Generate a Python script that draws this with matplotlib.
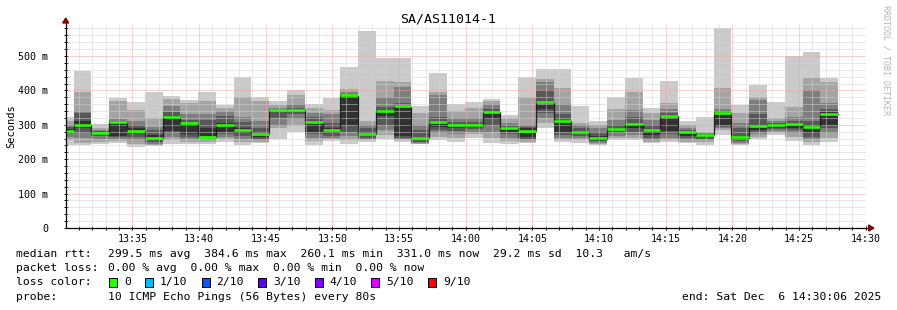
import matplotlib
matplotlib.use("Agg")
import matplotlib.pyplot as plt
from matplotlib.patches import Rectangle, Polygon
import numpy as np

# ---------------- data ----------------
title = "SA/AS11014-1"
first_step_start = -44      # seconds relative to 13:30:00 (first, partial step)
step_seconds = 80           # probe interval

# median RTT per step (ms)
median = [282, 299, 274, 307, 282, 262, 321, 303, 264, 297, 283, 272, 343, 343, 306,
          285, 384.6, 272, 340, 353, 262, 307, 297, 297, 336, 289, 282, 365, 310, 279,
          260.1, 287, 300, 283, 325, 277, 270, 334, 263, 295, 298, 301, 292, 331]

# the 10 sorted ping RTTs per step (ms)
pings = [
    [242, 255, 265, 275, 280, 288, 295, 300, 310, 322],
    [240, 248, 262, 275, 290, 310, 333, 340, 396, 457],
    [243, 250, 258, 266, 271, 277, 281, 285, 292, 302],
    [246, 253, 260, 265, 268, 310, 312, 318, 368, 378],
    [236, 245, 255, 265, 275, 290, 300, 311, 343, 365],
    [238, 241, 245, 250, 255, 270, 285, 295, 320, 396],
    [243, 255, 265, 275, 282, 327, 336, 354, 376, 384],
    [243, 250, 258, 265, 272, 305, 315, 330, 362, 372],
    [243, 250, 255, 262, 268, 290, 313, 330, 368, 396],
    [250, 258, 265, 272, 280, 305, 325, 340, 350, 358],
    [241, 250, 260, 268, 276, 292, 308, 323, 382, 440],
    [246, 250, 255, 260, 265, 278, 290, 310, 370, 380],
    [260, 290, 300, 320, 340, 344, 346, 350, 358, 369],
    [280, 300, 318, 330, 340, 346, 350, 360, 386, 400],
    [241, 252, 262, 272, 280, 310, 322, 333, 350, 360],
    [253, 258, 262, 268, 275, 290, 305, 330, 343, 378],
    [243, 255, 268, 280, 300, 388, 390, 395, 404, 467],
    [250, 255, 258, 262, 268, 278, 290, 300, 312, 572],
    [260, 270, 285, 300, 325, 343, 352, 382, 427, 495],
    [250, 255, 258, 262, 268, 357, 362, 410, 425, 493],
    [243, 245, 247, 250, 255, 265, 285, 300, 333, 355],
    [255, 265, 275, 285, 295, 310, 322, 388, 396, 450],
    [250, 262, 272, 282, 290, 300, 308, 320, 340, 360],
    [262, 272, 280, 288, 293, 300, 308, 320, 348, 365],
    [246, 262, 280, 300, 318, 340, 345, 360, 368, 375],
    [243, 252, 262, 272, 280, 293, 297, 305, 320, 328],
    [246, 250, 255, 260, 265, 290, 295, 300, 380, 440],
    [290, 305, 320, 335, 345, 370, 400, 423, 433, 463],
    [249, 255, 262, 270, 280, 315, 330, 360, 408, 462],
    [246, 255, 262, 268, 275, 283, 290, 298, 304, 355],
    [241, 245, 248, 252, 258, 268, 280, 290, 300, 312],
    [255, 262, 268, 275, 282, 292, 300, 314, 346, 380],
    [255, 262, 270, 280, 290, 305, 323, 343, 396, 437],
    [246, 250, 255, 262, 270, 288, 300, 315, 333, 348],
    [250, 255, 262, 272, 282, 328, 335, 345, 362, 428],
    [246, 250, 256, 262, 268, 280, 285, 292, 300, 310],
    [241, 250, 255, 260, 265, 272, 274, 276, 280, 322],
    [270, 285, 290, 295, 300, 337, 340, 346, 406, 580],
    [240, 244, 248, 252, 258, 268, 290, 305, 333, 358],
    [258, 265, 272, 278, 285, 300, 330, 372, 382, 416],
    [270, 276, 282, 288, 292, 302, 305, 310, 320, 367],
    [252, 265, 275, 285, 292, 305, 312, 323, 352, 500],
    [241, 250, 258, 265, 275, 296, 312, 400, 437, 512],
    [250, 262, 275, 290, 300, 338, 345, 362, 423, 435],
]

x_tick_labels = ["13:35", "13:40", "13:45", "13:50", "13:55", "14:00",
                 "14:05", "14:10", "14:15", "14:20", "14:25", "14:30"]
y_tick_values = [0, 100, 200, 300, 400, 500]
y_tick_labels = ["0", "100 m", "200 m", "300 m", "400 m", "500 m"]

stats_line = "299.5 ms avg  384.6 ms max  260.1 ms min  331.0 ms now  29.2 ms sd  10.3   am/s"
loss_line = "0.00 % avg  0.00 % max  0.00 % min  0.00 % now"
loss_labels = ["0", "1/10", "2/10", "3/10", "4/10", "5/10", "9/10"]
loss_colors = ["#26ff00", "#00b8ff", "#0059ff", "#5e00ff", "#7e00ff", "#dd00ff", "#ff0000"]
probe_text = "10 ICMP Echo Pings (56 Bytes) every 80s"
end_text = "end: Sat Dec  6 14:30:06 2025"

# ---------------- figure ----------------
W, H = 897, 310
fig = plt.figure(figsize=(W / 100, H / 100), dpi=100)
fig.patch.set_facecolor("white")

ax_left, ax_right, ax_top, ax_bot = 65.7, 865.7, 24.0, 228.0
ax = fig.add_axes([ax_left / W, (H - ax_bot) / H, (ax_right - ax_left) / W, (ax_bot - ax_top) / H])
ax.set_facecolor("white")
y_top = (ax_bot - ax_top) / 0.344
ax.set_xlim(0, 3600)
ax.set_ylim(0, y_top)

mono = "DejaVu Sans Mono"

# grid (light dotted)
gkw = dict(lw=0.72, ls=(0, (1, 1)), zorder=3)
for m in range(1, 61):
    if m % 5:
        ax.axvline(m * 60, color="#d2d2d2", **gkw)
for v in np.arange(20, y_top, 20):
    if v % 100:
        ax.axhline(v, color="#d2d2d2", **gkw)
for m in range(5, 61, 5):
    ax.axvline(m * 60, color="#f4a4a4", **gkw)
for v in range(100, int(y_top) + 1, 100):
    ax.axhline(v, color="#f4a4a4", **gkw)

# smoke
n = len(median)
edges = first_step_start + step_seconds * np.arange(n + 1)
P = np.array(pings, dtype=float)
shades = ["#cacaca", "#a4a4a4", "#7e7e7e", "#585858", "#323232"]
for k, col in enumerate(shades):
    lo = np.append(P[:, k], P[-1, k])
    hi = np.append(P[:, 9 - k], P[-1, 9 - k])
    ax.fill_between(edges, lo, hi, step="post", color=col, lw=0, zorder=2)

# median line
med = np.array(median, dtype=float)
ax.step(edges, np.append(med, med[-1]), where="post", color="#202020", lw=0.9, zorder=4)
ax.hlines(med + 1.0, edges[:-1], edges[1:], color=loss_colors[0], lw=1.9, zorder=5)

# axes lines + arrows
for s in ax.spines.values():
    s.set_visible(False)
ax.plot([0, 1 + 7 / 800], [0, 0], transform=ax.transAxes, color="black", lw=0.9, clip_on=False, zorder=6)
ax.plot([0, 0], [0, 1 + 2 / 204], transform=ax.transAxes, color="black", lw=0.9, clip_on=False, zorder=6)
pxw, pxh = 1 / 800, 1 / 204
ax.add_patch(Polygon([[1 + 3 * pxw, 3 * pxh], [1 + 3 * pxw, -3 * pxh], [1 + 8 * pxw, 0]],
                     closed=True, transform=ax.transAxes, color="#800000", clip_on=False, zorder=7))
ax.add_patch(Polygon([[-3 * pxw, 1 + 1 * pxh], [3 * pxw, 1 + 1 * pxh], [0, 1 + 6 * pxh]],
                     closed=True, transform=ax.transAxes, color="#800000", clip_on=False, zorder=7))

# ticks
xt = [(int(t[:2]) - 13) * 3600 + int(t[3:]) * 60 - 30 * 60 for t in x_tick_labels]
ax.set_xticks(xt)
ax.set_xticklabels(x_tick_labels, fontfamily=mono, fontsize=7.2)
ax.set_xticks(np.arange(60, 3600, 60), minor=True)
ax.set_yticks(y_tick_values)
ax.set_yticklabels(y_tick_labels, fontfamily=mono, fontsize=7.2)
ax.set_yticks(np.arange(20, y_top, 20), minor=True)
ax.tick_params(axis="both", which="both", direction="inout", length=3, width=0.7, color="black")
ax.tick_params(axis="x", which="major", pad=3)
ax.tick_params(axis="y", which="major", pad=11)

# title and labels
fig.text(448 / W, 1 - 19 / H, title, ha="center", va="center", fontfamily=mono, fontsize=9.5)
fig.text(11 / W, 1 - 126 / H, "Seconds", rotation=90, ha="center", va="center", fontfamily=mono, fontsize=7.5)
fig.text(886 / W, 1 - 5 / H, "RRDTOOL / TOBI OETIKER", rotation=270, ha="center", va="top",
         fontfamily=mono, fontsize=6.0, color="#b4b4b4")

# legend block
fs = 8.2
col2 = 108
def px(x, y):
    return x / W, 1 - y / H
fig.text(*px(16, 254), "median rtt:", ha="left", va="center", fontfamily=mono, fontsize=fs)
fig.text(*px(col2, 254), stats_line, ha="left", va="center", fontfamily=mono, fontsize=fs)
fig.text(*px(16, 268), "packet loss:", ha="left", va="center", fontfamily=mono, fontsize=fs)
fig.text(*px(col2, 268), loss_line, ha="left", va="center", fontfamily=mono, fontsize=fs)
fig.text(*px(16, 282), "loss color:", ha="left", va="center", fontfamily=mono, fontsize=fs)
cw = 6.9
bx = 109.0
for lab, c in zip(loss_labels, loss_colors):
    fig.add_artist(Rectangle((bx / W, 1 - 286.5 / H), 8 / W, 9 / H, transform=fig.transFigure,
                             facecolor=c, edgecolor="black", lw=0.7))
    fig.text(*px(bx + 15, 282), lab, ha="left", va="center", fontfamily=mono, fontsize=fs)
    bx += 15 + cw * len(lab) + 14
fig.text(*px(16, 297), "probe:", ha="left", va="center", fontfamily=mono, fontsize=fs)
fig.text(*px(col2, 297), probe_text, ha="left", va="center", fontfamily=mono, fontsize=fs)
fig.text(*px(881, 297), end_text, ha="right", va="center", fontfamily=mono, fontsize=fs)

fig.savefig("out.png", dpi=100)
